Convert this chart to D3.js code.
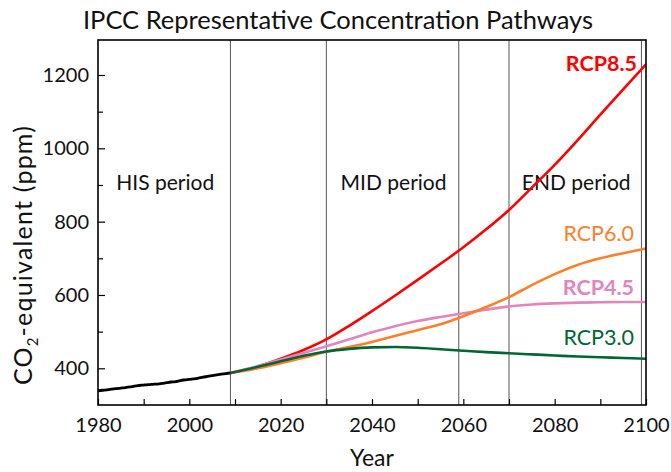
<!DOCTYPE html>
<html>
<head>
<meta charset="utf-8">
<script src="https://cdn.jsdelivr.net/npm/d3@7"></script>
<style>
  html, body { margin: 0; padding: 0; background: #fff; }
  svg { display: block; font-family: Lato, "Open Sans", sans-serif; }
</style>
</head>
<body>
<svg id="chart" width="671" height="472"></svg>
<script>
// Observed CO2 concentration, 1980–2009 (ppm)
const histYears = d3.range(1980, 2010);
const histValues = [338.7, 340.1, 341.4, 343.0, 344.6, 346.0, 347.4, 349.2, 351.6, 353.1,
                    354.4, 355.6, 356.4, 357.1, 358.8, 360.8, 362.6, 363.7, 366.7, 368.4,
                    369.7, 371.3, 373.4, 375.9, 377.7, 379.8, 381.9, 383.8, 385.6, 387.4];

// Scenario projections, CO2-equivalent (ppm)
const projYears = [2009, 2015, 2020, 2025, 2030, 2035, 2040, 2045, 2050, 2055, 2060,
                   2065, 2070, 2075, 2080, 2085, 2090, 2095, 2100];
const rcp85 = [387.4, 405, 426, 450, 479, 516, 556, 598, 641, 685, 730,
               779, 832, 893, 955, 1022, 1092, 1161, 1229];
const rcp60 = [387.4, 400, 414, 429, 445, 458, 472, 488, 504, 520, 542,
               567, 594, 627, 657, 682, 700, 714, 727];
const rcp45 = [387.4, 406, 424, 442, 460, 479, 498, 515, 529, 540, 550,
               560, 569, 574, 577, 579, 580, 581, 581];
const rcp30 = [387.4, 404, 419, 434, 446, 453, 457, 458, 456, 452, 448,
               444, 441, 438, 435, 432, 430, 428, 426];

// Period boundaries and labels
const periodBounds = [2009, 2030, 2059, 2070, 2099];
const periodLabels = [
  { text: "HIS period", from: 1980, to: 2009 },
  { text: "MID period", from: 2030, to: 2059 },
  { text: "END period", from: 2070, to: 2099 }
];

const xTickLabels = [1980, 2000, 2020, 2040, 2060, 2080, 2100];
const yTickLabels = [400, 600, 800, 1000, 1200];

const seriesList = [
  { name: "RCP8.5", values: rcp85, color: "#ff0000", bold: true },
  { name: "RCP6.0", values: rcp60, color: "#fd7f2c", bold: false },
  { name: "RCP4.5", values: rcp45, color: "#e086bd", bold: true },
  { name: "RCP3.0", values: rcp30, color: "#006633", bold: false }
];
// where each series name sits on the value axis (ppm), at the right edge
const labelAt = { "RCP8.5": 1233, "RCP6.0": 769, "RCP4.5": 622, "RCP3.0": 485 };

const svg = d3.select("#chart");
const plotLeft = 98, plotRight = 646, plotTop = 40, plotBottom = 405;

const x = d3.scaleLinear().domain([1980, 2100]).range([plotLeft, plotRight]);
const y = d3.scaleLinear().domain([400, 1200]).range([368.3, 75]);

// period divider lines
svg.append("g").selectAll("line").data(periodBounds).join("line")
  .attr("x1", d => x(d)).attr("x2", d => x(d))
  .attr("y1", plotTop).attr("y2", plotBottom)
  .attr("stroke", "#555").attr("stroke-width", 1);

// period labels
svg.append("g").selectAll("text").data(periodLabels).join("text")
  .attr("x", d => x((d.from + d.to) / 2) + 1)
  .attr("y", 190)
  .attr("text-anchor", "middle")
  .attr("font-size", 21)
  .attr("fill", "#111")
  .text(d => d.text);

// clip for the plotting area
svg.append("clipPath").attr("id", "plotClip")
  .append("rect").attr("x", plotLeft).attr("y", plotTop)
  .attr("width", plotRight - plotLeft).attr("height", plotBottom - plotTop);

const line = d3.line().x(d => x(d[0])).y(d => y(d[1])).curve(d3.curveMonotoneX);

const plot = svg.append("g").attr("clip-path", "url(#plotClip)");

// projections, drawn so that the lowest lies on top
[seriesList[0], seriesList[2], seriesList[1], seriesList[3]].forEach(s => {
  plot.append("path")
    .datum(projYears.map((yr, i) => [yr, s.values[i]]))
    .attr("d", line)
    .attr("fill", "none")
    .attr("stroke", s.color)
    .attr("stroke-width", 2.6);
});

// observed record
plot.append("path")
  .datum(histYears.map((yr, i) => [yr, histValues[i]]))
  .attr("d", line)
  .attr("fill", "none")
  .attr("stroke", "#000")
  .attr("stroke-width", 2.8);

// series labels
svg.append("g").selectAll("text").data(seriesList).join("text")
  .attr("x", d => d.name === "RCP8.5" ? 637 : 634)
  .attr("y", d => y(labelAt[d.name]))
  .attr("text-anchor", "end")
  .attr("dominant-baseline", "central")
  .attr("font-size", 21.5)
  .attr("font-weight", d => d.bold ? "bold" : "normal")
  .attr("fill", d => d.color)
  .text(d => d.name);

// axes: ticks pointing into the plot
const xAxis = d3.axisBottom(x).tickValues(d3.range(1980, 2101, 10))
  .tickSize(-6).tickPadding(13)
  .tickFormat(d => xTickLabels.includes(d) ? d : "");
const gx = svg.append("g").attr("transform", `translate(0,${plotBottom})`).call(xAxis);
gx.select(".domain").remove();
gx.selectAll(".tick line").attr("stroke", "#000").attr("stroke-width", 1.2);
gx.selectAll(".tick text").attr("font-size", 20).attr("fill", "#111")
  .attr("font-family", "Lato, 'Open Sans', sans-serif");

const yAxis = d3.axisLeft(y).tickValues(d3.range(400, 1201, 100))
  .tickSize(-7).tickPadding(9)
  .tickFormat(d => yTickLabels.includes(d) ? d : "");
const gy = svg.append("g").attr("transform", `translate(${plotLeft},0)`).call(yAxis);
gy.select(".domain").remove();
gy.selectAll(".tick line").attr("stroke", "#000").attr("stroke-width", 1.2)
  .attr("x2", d => yTickLabels.includes(d) ? 7 : 5);
gy.selectAll(".tick text").attr("font-size", 20).attr("fill", "#111")
  .attr("font-family", "Lato, 'Open Sans', sans-serif");

// frame
svg.append("rect")
  .attr("x", plotLeft).attr("y", plotTop)
  .attr("width", plotRight - plotLeft).attr("height", plotBottom - plotTop)
  .attr("fill", "none").attr("stroke", "#000").attr("stroke-width", 1.6);

// title
svg.append("text")
  .attr("x", 338).attr("y", 29)
  .attr("text-anchor", "middle")
  .attr("font-size", 25.5)
  .attr("fill", "#111")
  .text("IPCC Representative Concentration Pathways");

// x axis title
svg.append("text")
  .attr("x", x(2040)).attr("y", 466)
  .attr("text-anchor", "middle")
  .attr("font-size", 23)
  .attr("fill", "#111")
  .text("Year");

// y axis title with subscript
const yt = svg.append("text")
  .attr("transform", "translate(32,255) rotate(-90)")
  .attr("text-anchor", "middle")
  .attr("font-size", 25)
  .attr("letter-spacing", 1.2)
  .attr("fill", "#111");
yt.append("tspan").text("CO");
yt.append("tspan").attr("font-size", 15).attr("dy", 6).text("2");
yt.append("tspan").attr("dy", -6).text("-equivalent (ppm)");
</script>
</body>
</html>
